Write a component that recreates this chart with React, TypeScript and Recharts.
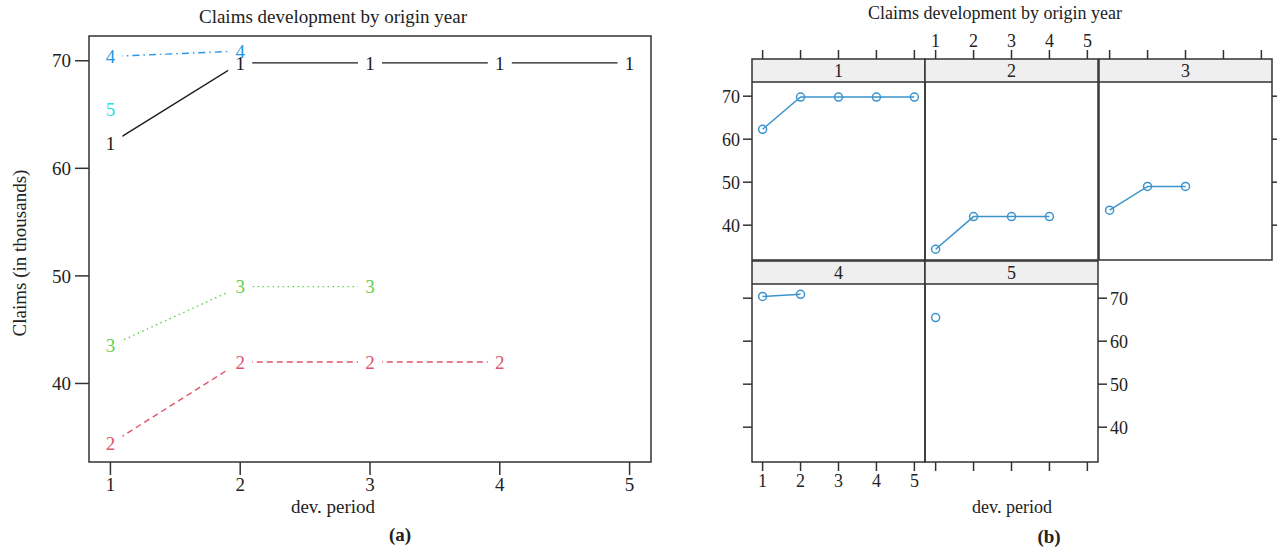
import React from 'react'
import { LineChart, Line, XAxis, YAxis, ReferenceArea } from 'recharts'

const FONT = '"Liberation Serif", "Times New Roman", serif'
const INK = '#222'
const FRAME = '#333'

// claims (in thousands) by origin year, one value per dev. period
const PERIODS = [1, 2, 3, 4, 5]
const ORIGINS = ['1', '2', '3', '4', '5']
const ORIGIN_1 = [62.3, 69.8, 69.8, 69.8, 69.8]
const ORIGIN_2 = [34.4, 42.0, 42.0, 42.0]
const ORIGIN_3 = [43.5, 49.0, 49.0]
const ORIGIN_4 = [70.4, 70.9]
const ORIGIN_5 = [65.5]
const Y_TICKS = [40, 50, 60, 70]

const SERIES = [ORIGIN_1, ORIGIN_2, ORIGIN_3, ORIGIN_4, ORIGIN_5]

const COLORS_A = ['#1a1a1a', '#DF536B', '#61D04F', '#2297E6', '#28E2E5']
const DASHES_A = [undefined, '6 4', '1.5 3.5', '1.5 4 7 4', '9 4']
const POINT_B = '#3b94cc'

const X_DOM_A: [number, number] = [0.835, 5.165]
const Y_DOM_A: [number, number] = [32.7, 72.3]
const X_DOM_B: [number, number] = [0.72, 5.28]
const Y_DOM_B: [number, number] = [31.9, 73.3]

const dataA = PERIODS.map((p, i) => {
  const row: Record<string, number | null> = { period: p }
  SERIES.forEach((s, k) => {
    row[`o${k + 1}`] = s[i] ?? null
  })
  return row
})

const tickStyle = (size: number) => ({ fontSize: size, fill: INK, fontFamily: FONT })

function Txt({ x, y, size, bold, rotate, children }: any) {
  return (
    <div
      style={{
        position: 'absolute',
        left: x,
        top: y,
        transform: `translate(-50%, -50%)${rotate ? ` rotate(${rotate}deg)` : ''}`,
        fontFamily: FONT,
        fontSize: size,
        fontWeight: bold ? 'bold' : 'normal',
        color: INK,
        whiteSpace: 'nowrap',
      }}
    >
      {children}
    </div>
  )
}

const maskDot = (id: string) => (props: any) => {
  const { cx, cy, index, value } = props
  if (cx == null || cy == null || value == null) return <g key={`${id}-m-${index}`} />
  return <rect key={`${id}-m-${index}`} x={cx - 12} y={cy - 10} width={24} height={20} fill="#fff" />
}

const labelDot = (id: string, color: string) => (props: any) => {
  const { cx, cy, index, value } = props
  if (cx == null || cy == null || value == null) return <g key={`${id}-t-${index}`} />
  return (
    <text
      key={`${id}-t-${index}`}
      x={cx}
      y={cy}
      dy="0.35em"
      textAnchor="middle"
      fontSize={19}
      fontFamily={FONT}
      fill={color}
    >
      {id}
    </text>
  )
}

function PanelA() {
  return (
    <div style={{ position: 'absolute', left: 0, top: 0 }}>
      <LineChart width={700} height={550} data={dataA} margin={{ top: 36, right: 49, left: 0, bottom: 0 }}>
        <XAxis
          dataKey="period"
          type="number"
          domain={X_DOM_A}
          ticks={PERIODS}
          allowDataOverflow
          height={88}
          axisLine={false}
          tickSize={13}
          tickMargin={3}
          tickLine={{ stroke: FRAME, strokeWidth: 1.5 }}
          tick={tickStyle(19)}
        />
        <YAxis
          type="number"
          domain={Y_DOM_A}
          ticks={Y_TICKS}
          allowDataOverflow
          width={89}
          axisLine={false}
          tickSize={14}
          tickMargin={4}
          tickLine={{ stroke: FRAME, strokeWidth: 1.5 }}
          tick={tickStyle(19)}
        />
        <ReferenceArea
          x1={X_DOM_A[0]}
          x2={X_DOM_A[1]}
          y1={Y_DOM_A[0]}
          y2={Y_DOM_A[1]}
          fill="none"
          stroke={FRAME}
          strokeWidth={1.5}
        />
        {ORIGINS.map((o, k) => (
          <Line
            key={`line-${o}`}
            dataKey={`o${k + 1}`}
            type="linear"
            stroke={COLORS_A[k]}
            strokeWidth={1.4}
            strokeDasharray={DASHES_A[k]}
            dot={false}
            activeDot={false}
            isAnimationActive={false}
          />
        ))}
        {ORIGINS.map((o, k) => (
          <Line
            key={`mask-${o}`}
            dataKey={`o${k + 1}`}
            stroke="none"
            dot={maskDot(o)}
            activeDot={false}
            isAnimationActive={false}
          />
        ))}
        {ORIGINS.map((o, k) => (
          <Line
            key={`text-${o}`}
            dataKey={`o${k + 1}`}
            stroke="none"
            dot={labelDot(o, COLORS_A[k])}
            activeDot={false}
            isAnimationActive={false}
          />
        ))}
      </LineChart>
    </div>
  )
}

// lattice layout for panel (b)
const COL_X = [752, 925, 1099]
const PANEL_W = 173
const PANEL_H = 178
const ROW_Y = [82, 284]
const STRIP_H = 23

const blank = () => ''

const stripLabel = (text: string) => (props: any) => {
  const vb = props.viewBox || {}
  return (
    <text
      x={vb.x + vb.width / 2}
      y={vb.y + vb.height / 2}
      dy="0.35em"
      textAnchor="middle"
      fontSize={18}
      fontFamily={FONT}
      fill={INK}
    >
      {text}
    </text>
  )
}

function LatticePanel({ k }: { k: number }) {
  const col = k % 3
  const row = Math.floor(k / 3)
  const x0 = COL_X[col]
  const y0 = ROW_Y[row]
  const values = SERIES[k]
  const data = values.map((v, i) => ({ period: PERIODS[i], v }))

  const hasLeft = col === 0
  const leftLabels = row === 0
  const hasRight = (row === 0 && col === 2) || (row === 1 && col === 1)
  const rightLabels = row === 1
  const hasBottom = row === 1
  const bottomLabels = col === 0
  const hasTop = row === 0
  const topLabels = col === 1

  const axisCommon = {
    tickSize: 9,
    tickMargin: 3,
    axisLine: false,
    tickLine: { stroke: FRAME, strokeWidth: 1.5 },
    tick: tickStyle(18),
  }

  return (
    <>
      <div style={{ position: 'absolute', left: x0 - 60, top: y0 - STRIP_H - 40 }}>
        <LineChart
          width={PANEL_W + 120}
          height={STRIP_H + 40}
          data={data}
          margin={{ top: hasTop ? 0 : 40, right: 60, left: 60, bottom: 0 }}
        >
          <XAxis
            dataKey="period"
            type="number"
            orientation="top"
            domain={X_DOM_B}
            ticks={PERIODS}
            allowDataOverflow
            height={40}
            hide={!hasTop}
            tickFormatter={topLabels ? undefined : blank}
            {...axisCommon}
          />
          <YAxis type="number" domain={[0, 1]} allowDataOverflow hide />
          <Line
            dataKey="v"
            stroke="none"
            strokeWidth={0}
            dot={false}
            activeDot={false}
            isAnimationActive={false}
          />
          <ReferenceArea
            x1={X_DOM_B[0]}
            x2={X_DOM_B[1]}
            y1={0}
            y2={1}
            fill="#efefef"
            fillOpacity={1}
            stroke={FRAME}
            strokeWidth={1.5}
            label={stripLabel(ORIGINS[k])}
          />
        </LineChart>
      </div>
      <div style={{ position: 'absolute', left: x0 - 60, top: y0 }}>
        <LineChart
          width={PANEL_W + 120}
          height={PANEL_H + 40}
          data={data}
          margin={{ top: 0, right: hasRight ? 0 : 60, left: hasLeft ? 0 : 60, bottom: hasBottom ? 0 : 40 }}
        >
          <XAxis
            dataKey="period"
            type="number"
            domain={X_DOM_B}
            ticks={PERIODS}
            allowDataOverflow
            height={40}
            hide={!hasBottom}
            tickFormatter={bottomLabels ? undefined : blank}
            {...axisCommon}
          />
          <YAxis
            yAxisId="l"
            type="number"
            domain={Y_DOM_B}
            ticks={Y_TICKS}
            allowDataOverflow
            width={60}
            hide={!hasLeft}
            tickFormatter={leftLabels ? undefined : blank}
            {...axisCommon}
          />
          <YAxis
            yAxisId="r"
            orientation="right"
            type="number"
            domain={Y_DOM_B}
            ticks={Y_TICKS}
            allowDataOverflow
            width={60}
            hide={!hasRight}
            tickFormatter={rightLabels ? undefined : blank}
            {...axisCommon}
          />
          <ReferenceArea
            yAxisId="l"
            x1={X_DOM_B[0]}
            x2={X_DOM_B[1]}
            y1={Y_DOM_B[0]}
            y2={Y_DOM_B[1]}
            fill="none"
            stroke={FRAME}
            strokeWidth={1.5}
          />
          <Line
            yAxisId="l"
            dataKey="v"
            type="linear"
            stroke={POINT_B}
            strokeWidth={1.5}
            dot={{ r: 4, fill: 'none', stroke: POINT_B, strokeWidth: 1.5 }}
            activeDot={false}
            isAnimationActive={false}
          />
        </LineChart>
      </div>
    </>
  )
}

export default function App() {
  return (
    <div
      style={{
        position: 'fixed',
        left: 0,
        top: 0,
        width: 1277,
        height: 550,
        background: '#fff',
        overflow: 'hidden',
      }}
    >
      <PanelA />
      <Txt x={333} y={17} size={19}>Claims development by origin year</Txt>
      <Txt x={20} y={253} size={19} rotate={-90}>Claims (in thousands)</Txt>
      <Txt x={333} y={507} size={19}>dev. period</Txt>
      <Txt x={400} y={535} size={19} bold>(a)</Txt>

      {SERIES.map((_, k) => (
        <LatticePanel key={`panel-${k}`} k={k} />
      ))}
      <Txt x={995} y={13} size={18}>Claims development by origin year</Txt>
      <Txt x={1012} y={507} size={18}>dev. period</Txt>
      <Txt x={1049} y={537} size={19} bold>(b)</Txt>
    </div>
  )
}
